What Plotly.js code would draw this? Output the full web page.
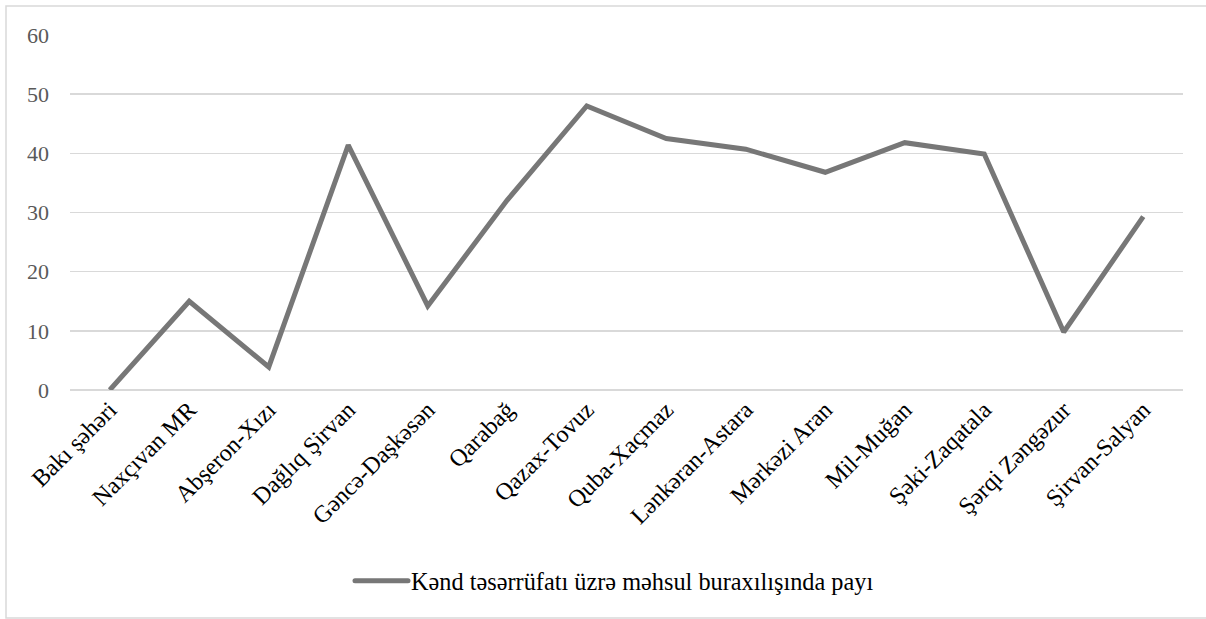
<!DOCTYPE html>
<html>
<head>
<meta charset="utf-8">
<script src="https://cdn.plot.ly/plotly-3.0.1.min.js"></script>
<style>
html,body{margin:0;padding:0;background:#fff;}
#chart{width:1206px;height:619px;}
</style>
</head>
<body>
<div id="chart"></div>
<script>
const categories = ["Bakı şəhəri","Naxçıvan MR","Abşeron-Xızı","Dağlıq Şirvan","Gəncə-Daşkəsən","Qarabağ","Qazax-Tovuz","Quba-Xaçmaz","Lənkəran-Astara","Mərkəzi Aran","Mil-Muğan","Şəki-Zaqatala","Şərqi Zəngəzur","Şirvan-Salyan"];
const values = [0, 15.0, 3.9, 41.4, 14.2, 32.1, 48.0, 42.5, 40.7, 36.8, 41.8, 39.9, 9.8, 29.3];
const seriesName = "Kənd təsərrüfatı üzrə məhsul buraxılışında payı";
const yTicks = [0, 10, 20, 30, 40, 50, 60];

const font = "Liberation Serif";

const trace = {
  type: 'scatter',
  mode: 'lines',
  x: categories,
  y: values,
  name: seriesName,
  line: {color: '#777777', width: 5, shape: 'linear'},
  hoverinfo: 'x+y'
};

const layout = {
  width: 1206,
  height: 619,
  margin: {l: 70, r: 23, t: 35, b: 229},
  paper_bgcolor: '#ffffff',
  plot_bgcolor: '#ffffff',
  font: {family: font, size: 22, color: '#595959'},
  showlegend: true,
  legend: {
    orientation: 'h',
    xref: 'container',
    x: 615 / 1206,
    xanchor: 'center',
    yref: 'container',
    y: (619 - 581) / 619,
    yanchor: 'middle',
    itemwidth: 50,
    font: {family: font, size: 24.3, color: '#000000'},
    bgcolor: 'rgba(0,0,0,0)'
  },
  xaxis: {
    type: 'category',
    range: [-0.5, categories.length - 0.5],
    tickangle: -45,
    tickfont: {family: font, size: 24, color: '#000000'},
    showgrid: false,
    zeroline: false,
    showline: false,
    ticks: '',
    fixedrange: true
  },
  yaxis: {
    range: [0, 60],
    tickvals: yTicks,
    ticktext: yTicks.map(String),
    tickfont: {family: font, size: 22, color: '#595959'},
    showgrid: true,
    gridcolor: '#d9d9d9',
    gridwidth: 1.5,
    zeroline: true,
    zerolinecolor: '#d9d9d9',
    zerolinewidth: 1.5,
    showline: false,
    ticks: '',
    ticklabelstandoff: 20,
    fixedrange: true
  },
  shapes: [{
    type: 'rect',
    xref: 'paper', yref: 'paper',
    x0: (6 - 70) / 1113, x1: (1212 - 70) / 1113,
    y0: (390 - 618) / 355, y1: (390 - 6) / 355,
    line: {color: '#d9d9d9', width: 1.5},
    fillcolor: 'rgba(0,0,0,0)',
    layer: 'below'
  }]
};

Plotly.newPlot('chart', [trace], layout, {displayModeBar: false, staticPlot: true}).then(function (gd) {
  // lengthen the legend line sample to match the reference style
  gd.querySelectorAll('.legend .legendlines path').forEach(function (p) {
    p.setAttribute('d', 'M4,0h53');
    p.style.strokeLinecap = 'round';
  });
});
</script>
</body>
</html>
